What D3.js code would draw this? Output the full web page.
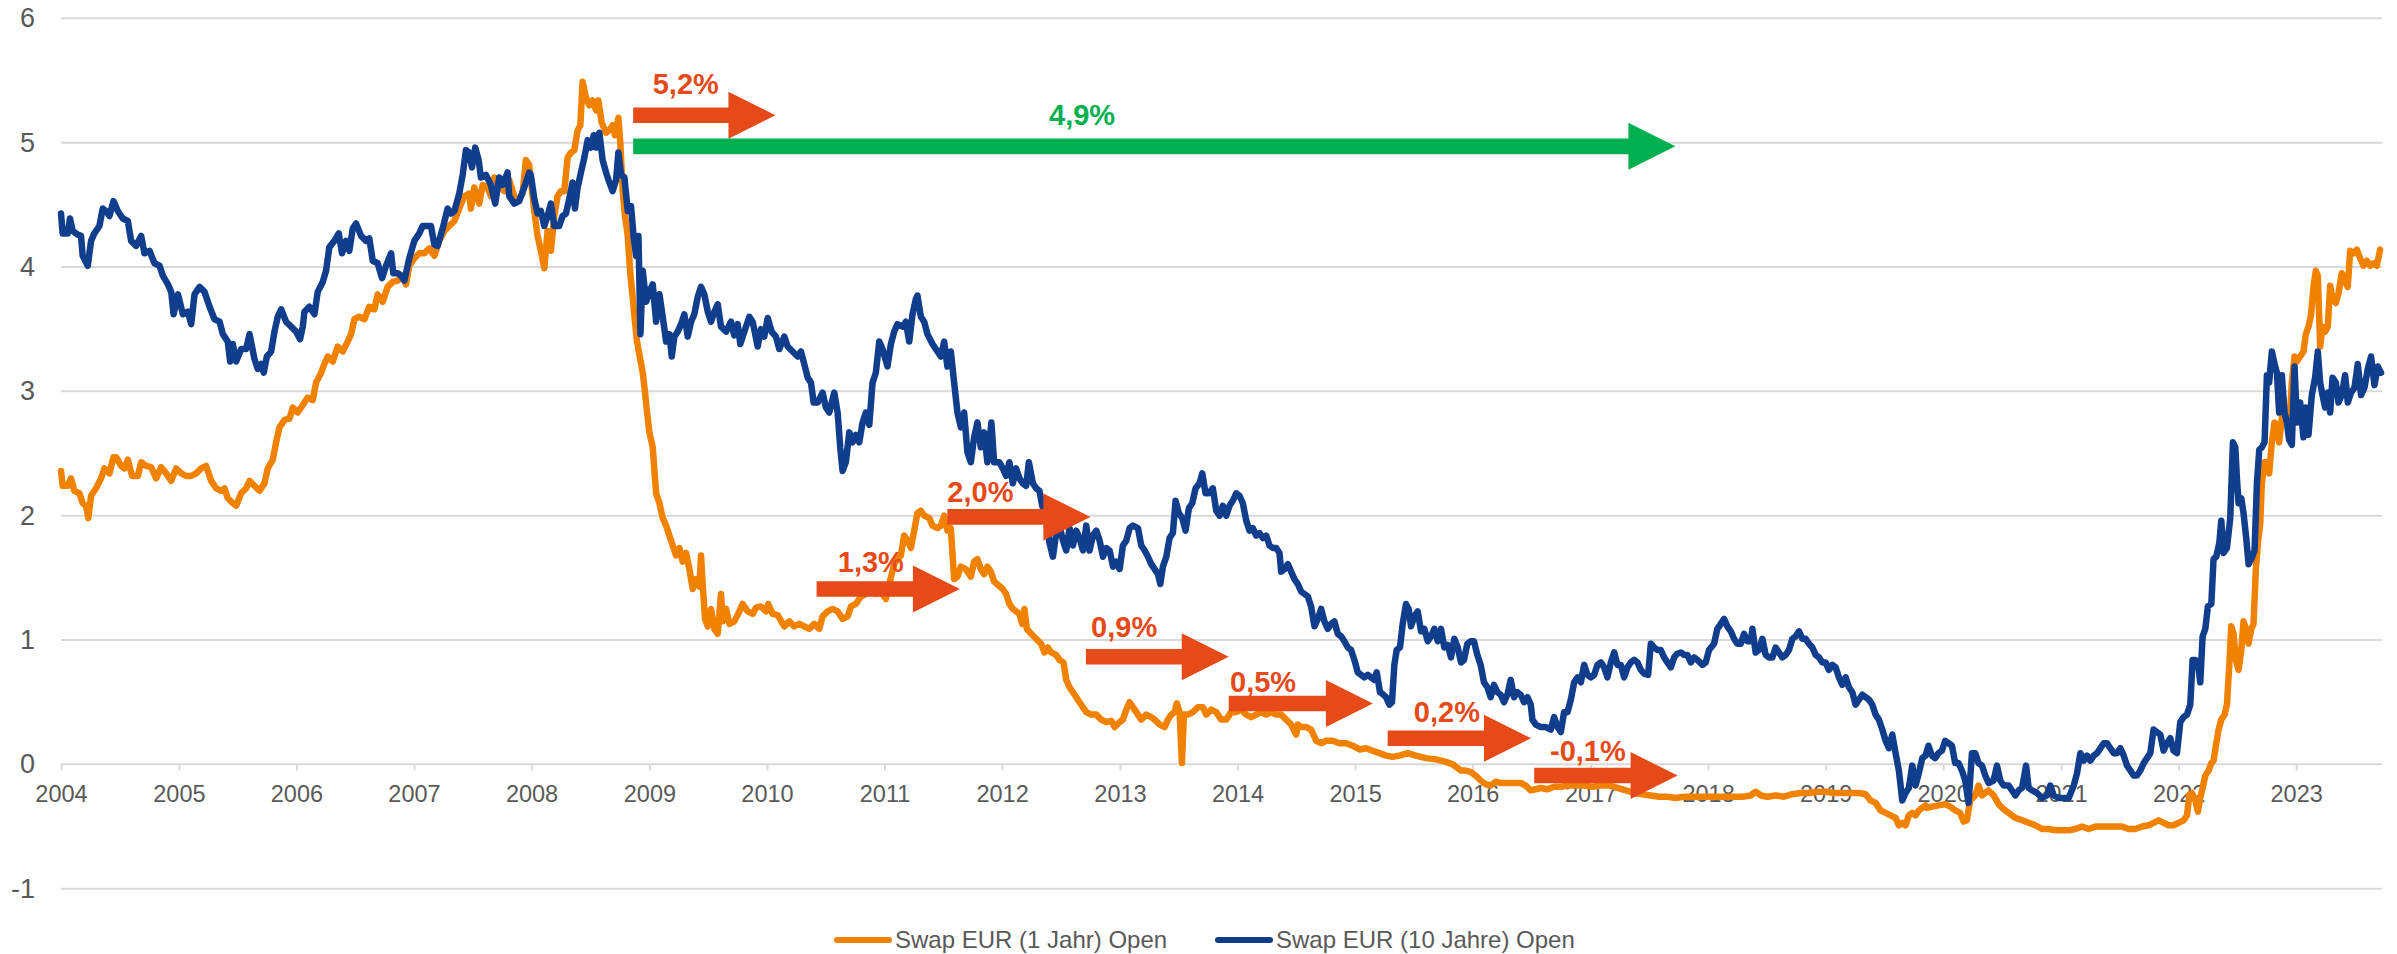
<!DOCTYPE html>
<html>
<head>
<meta charset="utf-8">
<script src="https://cdn.jsdelivr.net/npm/d3@7"></script>
<style>
  body { margin: 0; background: #fff; }
  svg { display: block; font-family: "Liberation Sans", Arial, sans-serif; }
</style>
</head>
<body>
<div id="chart"></div>
<script>
// ---- data (decimal year, rate in %) ----
const seriesNames = ["Swap EUR (1 Jahr) Open", "Swap EUR (10 Jahre) Open"];
const xTickYears = [2004,2005,2006,2007,2008,2009,2010,2011,2012,2013,2014,2015,2016,2017,2018,2019,2020,2021,2022,2023];
const yTicks = [-1,0,1,2,3,4,5,6];

const swap10y = [
[2004.000,4.43],[2004.014,4.27],[2004.057,4.27],[2004.076,4.39],[2004.099,4.29],[2004.142,4.26],[2004.170,4.25],[2004.184,4.09],[2004.227,4.01],[2004.255,4.21],[2004.283,4.27],[2004.326,4.33],[2004.354,4.47],[2004.382,4.45],[2004.411,4.41],[2004.445,4.53],[2004.482,4.45],[2004.524,4.39],[2004.567,4.37],[2004.595,4.21],[2004.637,4.17],[2004.680,4.25],[2004.708,4.11],[2004.751,4.13],[2004.793,4.03],[2004.836,4.01],[2004.864,3.93],[2004.907,3.86],[2004.935,3.80],[2004.955,3.62],[2004.992,3.78],[2005.034,3.62],[2005.076,3.64],[2005.105,3.54],[2005.133,3.78],[2005.176,3.84],[2005.218,3.80],[2005.261,3.68],[2005.303,3.58],[2005.346,3.56],[2005.374,3.46],[2005.416,3.40],[2005.436,3.24],[2005.459,3.38],[2005.487,3.24],[2005.530,3.34],[2005.572,3.34],[2005.601,3.46],[2005.643,3.26],[2005.671,3.18],[2005.700,3.22],[2005.722,3.15],[2005.748,3.28],[2005.785,3.32],[2005.813,3.48],[2005.841,3.60],[2005.870,3.66],[2005.912,3.56],[2005.955,3.52],[2005.997,3.48],[2006.031,3.42],[2006.054,3.52],[2006.068,3.64],[2006.110,3.68],[2006.153,3.62],[2006.181,3.80],[2006.224,3.88],[2006.252,3.97],[2006.280,4.16],[2006.323,4.21],[2006.360,4.27],[2006.388,4.11],[2006.422,4.21],[2006.450,4.13],[2006.479,4.31],[2006.507,4.35],[2006.550,4.25],[2006.592,4.21],[2006.620,4.23],[2006.649,4.05],[2006.691,4.03],[2006.728,3.91],[2006.762,4.01],[2006.805,4.11],[2006.824,3.95],[2006.861,3.95],[2006.890,3.93],[2006.918,3.89],[2006.960,4.07],[2007.003,4.21],[2007.045,4.27],[2007.074,4.33],[2007.116,4.33],[2007.144,4.33],[2007.173,4.18],[2007.201,4.17],[2007.244,4.31],[2007.286,4.47],[2007.314,4.43],[2007.343,4.45],[2007.385,4.59],[2007.414,4.74],[2007.442,4.94],[2007.470,4.92],[2007.493,4.80],[2007.521,4.96],[2007.550,4.86],[2007.569,4.72],[2007.612,4.74],[2007.654,4.66],[2007.691,4.51],[2007.725,4.72],[2007.754,4.66],[2007.796,4.76],[2007.810,4.57],[2007.853,4.51],[2007.895,4.53],[2007.938,4.64],[2007.980,4.76],
[2007.994,4.74],[2008.023,4.55],[2008.051,4.43],[2008.079,4.45],[2008.108,4.33],[2008.136,4.41],[2008.164,4.51],[2008.193,4.33],[2008.235,4.33],[2008.263,4.41],[2008.292,4.43],[2008.320,4.55],[2008.348,4.68],[2008.368,4.47],[2008.391,4.64],[2008.419,4.76],[2008.448,4.88],[2008.476,5.02],[2008.504,4.96],[2008.527,5.06],[2008.547,4.96],[2008.575,5.08],[2008.603,4.86],[2008.632,4.76],[2008.660,4.68],[2008.688,4.61],[2008.717,4.70],[2008.737,4.92],[2008.759,4.74],[2008.788,4.72],[2008.816,4.45],[2008.844,4.49],[2008.867,4.23],[2008.887,4.09],[2008.907,4.25],[2008.924,3.46],[2008.943,3.97],[2008.972,3.72],[2009.000,3.80],[2009.028,3.86],[2009.057,3.56],[2009.085,3.78],[2009.113,3.60],[2009.142,3.40],[2009.170,3.46],[2009.190,3.28],[2009.212,3.44],[2009.241,3.48],[2009.269,3.54],[2009.297,3.62],[2009.326,3.44],[2009.354,3.56],[2009.382,3.62],[2009.411,3.76],[2009.439,3.84],[2009.467,3.78],[2009.496,3.64],[2009.524,3.56],[2009.552,3.64],[2009.581,3.70],[2009.609,3.52],[2009.652,3.48],[2009.694,3.56],[2009.722,3.45],[2009.751,3.54],[2009.773,3.38],[2009.807,3.48],[2009.850,3.60],[2009.878,3.56],[2009.921,3.36],[2009.949,3.50],[2009.977,3.44],[2010.006,3.59],[2010.040,3.48],[2010.076,3.44],[2010.105,3.34],[2010.147,3.44],[2010.176,3.36],[2010.218,3.32],[2010.261,3.28],[2010.289,3.32],[2010.317,3.22],[2010.346,3.11],[2010.374,3.07],[2010.397,2.91],[2010.431,2.91],[2010.473,2.99],[2010.501,2.87],[2010.530,2.83],[2010.572,2.99],[2010.601,2.83],[2010.623,2.55],[2010.643,2.36],[2010.671,2.43],[2010.700,2.67],[2010.728,2.59],[2010.756,2.65],[2010.785,2.59],[2010.813,2.75],[2010.841,2.83],[2010.870,2.73],[2010.898,3.07],[2010.926,3.15],[2010.955,3.40],[2010.983,3.34],[2011.025,3.20],[2011.054,3.38],[2011.082,3.48],[2011.110,3.54],[2011.153,3.52],[2011.181,3.56],[2011.210,3.40],[2011.238,3.62],[2011.266,3.74],[2011.280,3.77],[2011.309,3.60],[2011.337,3.56],[2011.365,3.46],[2011.408,3.38],[2011.450,3.32],[2011.479,3.28],[2011.507,3.40],[2011.535,3.20],[2011.564,3.32],[2011.592,3.07],[2011.620,2.83],[2011.649,2.71],[2011.677,2.83],[2011.705,2.51],[2011.734,2.43],[2011.762,2.63],[2011.790,2.75],[2011.819,2.55],[2011.847,2.67],[2011.875,2.43],[2011.909,2.75],[2011.932,2.43],
[2011.977,2.43],[2012.006,2.38],[2012.034,2.32],[2012.062,2.43],[2012.091,2.26],[2012.119,2.38],[2012.147,2.30],[2012.176,2.26],[2012.204,2.24],[2012.227,2.43],[2012.261,2.26],[2012.289,2.22],[2012.317,2.20],[2012.340,2.08],[2012.368,2.00],[2012.402,1.78],[2012.431,1.67],[2012.459,1.86],[2012.487,1.92],[2012.516,1.80],[2012.544,1.72],[2012.572,1.90],[2012.601,1.76],[2012.629,1.88],[2012.657,1.82],[2012.686,1.72],[2012.714,1.92],[2012.742,1.72],[2012.771,1.84],[2012.799,1.88],[2012.827,1.80],[2012.856,1.67],[2012.884,1.74],[2012.912,1.72],[2012.941,1.59],[2012.969,1.63],[2012.997,1.57],[2013.025,1.76],[2013.054,1.80],[2013.082,1.90],[2013.110,1.92],[2013.153,1.90],[2013.181,1.76],[2013.210,1.72],[2013.238,1.67],[2013.266,1.61],[2013.295,1.57],[2013.323,1.53],[2013.343,1.45],[2013.365,1.59],[2013.394,1.67],[2013.422,1.82],[2013.450,1.86],[2013.473,2.12],[2013.501,2.02],[2013.530,1.98],[2013.558,1.88],[2013.586,2.06],[2013.615,2.10],[2013.643,2.22],[2013.677,2.26],[2013.700,2.34],[2013.728,2.18],[2013.756,2.18],[2013.790,2.22],[2013.819,2.04],[2013.847,2.00],[2013.875,2.08],[2013.904,2.00],[2013.932,2.08],[2013.960,2.12],[2013.989,2.18],[2014.017,2.16],[2014.045,2.10],[2014.074,1.96],[2014.102,1.88],[2014.130,1.90],[2014.159,1.84],[2014.187,1.86],[2014.215,1.82],[2014.244,1.84],[2014.272,1.76],[2014.300,1.74],[2014.329,1.74],[2014.357,1.70],[2014.371,1.55],[2014.399,1.57],[2014.428,1.61],[2014.456,1.55],[2014.484,1.49],[2014.513,1.45],[2014.541,1.39],[2014.569,1.37],[2014.598,1.35],[2014.626,1.27],[2014.654,1.11],[2014.683,1.17],[2014.711,1.25],[2014.739,1.15],[2014.768,1.09],[2014.796,1.13],[2014.824,1.15],[2014.853,1.05],[2014.881,1.03],[2014.909,0.99],[2014.938,0.94],[2014.966,0.92],[2014.994,0.84],[2015.023,0.74],[2015.051,0.72],[2015.079,0.70],[2015.108,0.72],[2015.136,0.70],[2015.164,0.68],[2015.184,0.74],[2015.212,0.58],[2015.241,0.56],[2015.263,0.54],[2015.292,0.48],[2015.314,0.50],[2015.334,0.80],[2015.354,0.92],[2015.382,0.94],[2015.405,1.13],[2015.433,1.29],[2015.456,1.25],[2015.476,1.11],[2015.504,1.19],[2015.533,1.23],[2015.561,1.07],[2015.589,1.09],[2015.618,0.99],[2015.646,1.03],[2015.674,1.09],[2015.703,0.99],[2015.731,1.09],[2015.759,0.94],[2015.788,0.96],[2015.816,0.86],[2015.844,1.01],[2015.873,0.94],[2015.901,0.82],
[2015.926,0.84],[2015.955,0.97],[2015.983,0.99],[2016.011,0.99],[2016.040,0.88],[2016.068,0.80],[2016.096,0.66],[2016.125,0.62],[2016.153,0.54],[2016.181,0.64],[2016.210,0.58],[2016.238,0.56],[2016.266,0.50],[2016.295,0.56],[2016.323,0.68],[2016.351,0.54],[2016.380,0.58],[2016.408,0.56],[2016.436,0.50],[2016.465,0.54],[2016.493,0.48],[2016.507,0.36],[2016.535,0.32],[2016.578,0.30],[2016.620,0.30],[2016.663,0.28],[2016.691,0.38],[2016.720,0.30],[2016.748,0.26],[2016.776,0.42],[2016.805,0.42],[2016.833,0.52],[2016.861,0.66],[2016.890,0.70],[2016.918,0.66],[2016.946,0.80],[2016.974,0.72],[2017.003,0.70],[2017.031,0.72],[2017.059,0.80],[2017.088,0.82],[2017.116,0.78],[2017.144,0.70],[2017.173,0.82],[2017.201,0.90],[2017.229,0.80],[2017.258,0.80],[2017.286,0.70],[2017.314,0.78],[2017.343,0.82],[2017.371,0.84],[2017.399,0.82],[2017.428,0.76],[2017.456,0.73],[2017.490,0.72],[2017.513,0.97],[2017.541,0.94],[2017.569,0.92],[2017.598,0.92],[2017.626,0.86],[2017.654,0.82],[2017.683,0.78],[2017.711,0.86],[2017.739,0.89],[2017.768,0.90],[2017.796,0.88],[2017.824,0.88],[2017.853,0.82],[2017.881,0.86],[2017.909,0.84],[2017.952,0.80],[2017.980,0.82],[2018.008,0.92],[2018.051,0.97],[2018.079,1.09],[2018.108,1.13],[2018.136,1.17],[2018.164,1.11],[2018.193,1.07],[2018.221,1.01],[2018.249,0.97],[2018.278,0.97],[2018.306,1.05],[2018.334,0.99],[2018.363,0.99],[2018.377,1.09],[2018.405,0.90],[2018.433,0.92],[2018.462,1.01],[2018.490,0.88],[2018.518,0.86],[2018.547,0.86],[2018.575,0.94],[2018.603,0.90],[2018.632,0.86],[2018.660,0.88],[2018.688,0.92],[2018.717,1.01],[2018.745,1.03],[2018.773,1.07],[2018.802,1.01],[2018.830,1.01],[2018.858,0.97],[2018.887,0.94],[2018.915,0.88],[2018.943,0.86],[2018.972,0.82],[2019.000,0.82],[2019.028,0.76],[2019.057,0.80],[2019.085,0.78],[2019.113,0.70],[2019.142,0.64],[2019.170,0.70],[2019.198,0.62],[2019.227,0.58],[2019.255,0.48],[2019.283,0.52],[2019.312,0.56],[2019.340,0.54],[2019.368,0.52],[2019.397,0.48],[2019.425,0.40],[2019.453,0.36],[2019.482,0.28],[2019.510,0.19],[2019.538,0.13],[2019.567,0.24],[2019.595,0.09],[2019.623,-0.05],[2019.652,-0.29],[2019.680,-0.23],[2019.708,-0.19],[2019.737,-0.01],[2019.765,-0.17],[2019.793,-0.07],[2019.822,0.05],[2019.850,0.07],
[2019.875,0.15],[2019.904,0.07],[2019.932,0.05],[2019.960,0.09],[2019.989,0.11],[2020.017,0.19],[2020.045,0.17],[2020.074,0.15],[2020.102,0.01],[2020.130,0.01],[2020.159,-0.05],[2020.187,-0.13],[2020.215,-0.31],[2020.244,0.09],[2020.272,0.09],[2020.300,0.01],[2020.329,-0.01],[2020.357,-0.09],[2020.385,-0.15],[2020.428,-0.13],[2020.456,-0.01],[2020.484,-0.13],[2020.513,-0.17],[2020.555,-0.17],[2020.584,-0.21],[2020.612,-0.25],[2020.640,-0.21],[2020.669,-0.19],[2020.703,-0.01],[2020.725,-0.19],[2020.754,-0.21],[2020.796,-0.23],[2020.838,-0.27],[2020.881,-0.25],[2020.909,-0.17],[2020.938,-0.25],[2020.980,-0.27],[2021.023,-0.27],[2021.065,-0.27],[2021.108,-0.17],[2021.136,-0.07],[2021.164,0.09],[2021.193,0.03],[2021.221,0.07],[2021.249,0.03],[2021.278,0.07],[2021.306,0.09],[2021.334,0.13],[2021.363,0.17],[2021.391,0.17],[2021.419,0.13],[2021.448,0.09],[2021.476,0.09],[2021.504,0.13],[2021.533,0.07],[2021.561,-0.01],[2021.589,-0.05],[2021.618,-0.09],[2021.646,-0.09],[2021.674,-0.05],[2021.703,0.01],[2021.731,0.05],[2021.759,0.09],[2021.787,0.28],[2021.816,0.26],[2021.844,0.24],[2021.872,0.11],[2021.901,0.17],[2021.929,0.21],[2021.957,0.11],[2021.986,0.09],[2022.014,0.34],[2022.042,0.38],[2022.071,0.40],[2022.099,0.48],[2022.119,0.84],[2022.142,0.84],[2022.164,0.82],[2022.184,0.66],[2022.204,1.03],[2022.227,1.09],[2022.249,1.27],[2022.278,1.29],[2022.297,1.65],[2022.320,1.67],[2022.346,1.78],[2022.363,1.96],[2022.382,1.70],[2022.411,1.74],[2022.439,1.98],[2022.462,2.59],[2022.482,2.55],[2022.496,2.30],[2022.510,2.10],[2022.533,2.14],[2022.552,2.02],[2022.575,1.82],[2022.595,1.61],[2022.618,1.65],[2022.646,1.72],[2022.666,2.26],[2022.686,2.53],[2022.708,2.55],[2022.731,2.59],[2022.751,3.13],[2022.770,3.07],[2022.793,3.32],[2022.816,3.22],[2022.836,3.15],[2022.855,2.83],[2022.878,3.13],[2022.901,2.83],[2022.921,2.75],[2022.940,2.61],[2022.963,2.57],[2022.986,3.20],[2023.006,2.75],[2023.034,2.91],[2023.062,2.63],[2023.082,2.87],[2023.105,2.65],[2023.133,2.97],[2023.161,3.11],[2023.184,3.32],[2023.204,3.07],[2023.224,2.97],[2023.246,2.87],[2023.269,2.99],[2023.289,2.83],[2023.309,3.11],[2023.337,3.07],[2023.360,2.91],[2023.388,2.97],[2023.416,3.13],[2023.439,2.91],[2023.467,2.99],[2023.496,3.03],[2023.524,3.22],[2023.552,2.97],[2023.581,3.03],[2023.609,3.18],[2023.637,3.28],[2023.666,3.05],[2023.694,3.20],[2023.722,3.15]
];

const swap1y = [
[2004.000,2.36],[2004.014,2.24],[2004.057,2.24],[2004.085,2.30],[2004.113,2.20],[2004.156,2.18],[2004.184,2.10],[2004.212,2.08],[2004.232,1.98],[2004.255,2.16],[2004.297,2.22],[2004.340,2.30],[2004.368,2.38],[2004.411,2.34],[2004.445,2.47],[2004.467,2.47],[2004.510,2.40],[2004.538,2.38],[2004.567,2.45],[2004.603,2.32],[2004.652,2.32],[2004.680,2.43],[2004.722,2.40],[2004.765,2.39],[2004.807,2.30],[2004.850,2.39],[2004.892,2.34],[2004.935,2.28],[2004.977,2.38],[2005.020,2.34],[2005.062,2.32],[2005.105,2.32],[2005.147,2.34],[2005.190,2.38],[2005.232,2.40],[2005.275,2.28],[2005.317,2.22],[2005.360,2.20],[2005.388,2.22],[2005.416,2.14],[2005.459,2.10],[2005.487,2.08],[2005.530,2.18],[2005.572,2.22],[2005.601,2.28],[2005.643,2.24],[2005.686,2.20],[2005.728,2.26],[2005.756,2.38],[2005.799,2.45],[2005.827,2.59],[2005.856,2.71],[2005.898,2.77],[2005.941,2.78],[2005.969,2.87],[2006.011,2.83],[2006.054,2.89],[2006.096,2.95],[2006.139,2.93],[2006.167,3.07],[2006.210,3.15],[2006.238,3.22],[2006.266,3.28],[2006.309,3.24],[2006.351,3.36],[2006.394,3.32],[2006.436,3.40],[2006.465,3.46],[2006.493,3.58],[2006.535,3.60],[2006.578,3.58],[2006.620,3.68],[2006.663,3.66],[2006.691,3.78],[2006.734,3.72],[2006.776,3.84],[2006.819,3.88],[2006.861,3.89],[2006.904,3.93],[2006.932,3.86],[2006.960,4.01],[2007.003,4.07],[2007.045,4.11],[2007.088,4.11],[2007.130,4.15],[2007.173,4.09],[2007.215,4.21],[2007.258,4.29],[2007.300,4.33],[2007.343,4.37],[2007.385,4.47],[2007.428,4.57],[2007.470,4.59],[2007.484,4.47],[2007.513,4.64],[2007.555,4.51],[2007.584,4.66],[2007.626,4.64],[2007.654,4.57],[2007.683,4.72],[2007.725,4.66],[2007.768,4.61],[2007.810,4.70],[2007.853,4.57],[2007.881,4.53],[2007.924,4.59],[2007.952,4.86],[2007.980,4.82],
[2007.994,4.70],[2008.023,4.45],[2008.051,4.25],[2008.079,4.13],[2008.108,3.99],[2008.136,4.29],[2008.164,4.13],[2008.193,4.41],[2008.221,4.57],[2008.249,4.61],[2008.278,4.61],[2008.306,4.88],[2008.334,4.92],[2008.363,4.94],[2008.391,5.10],[2008.414,5.14],[2008.433,5.49],[2008.462,5.36],[2008.490,5.30],[2008.518,5.34],[2008.547,5.26],[2008.567,5.34],[2008.595,5.16],[2008.632,5.08],[2008.660,5.10],[2008.688,5.14],[2008.708,5.06],[2008.737,5.20],[2008.754,4.98],[2008.773,4.61],[2008.793,4.41],[2008.816,4.25],[2008.839,3.93],[2008.858,3.76],[2008.873,3.60],[2008.895,3.40],[2008.918,3.28],[2008.943,3.15],[2008.963,2.99],[2008.980,2.83],[2009.000,2.67],[2009.028,2.55],[2009.057,2.18],[2009.085,2.10],[2009.113,1.98],[2009.142,1.92],[2009.170,1.84],[2009.198,1.76],[2009.227,1.68],[2009.255,1.74],[2009.283,1.63],[2009.312,1.70],[2009.340,1.57],[2009.368,1.41],[2009.397,1.49],[2009.425,1.43],[2009.439,1.68],[2009.453,1.45],[2009.473,1.17],[2009.496,1.11],[2009.524,1.25],[2009.552,1.09],[2009.581,1.05],[2009.609,1.37],[2009.623,1.15],[2009.652,1.25],[2009.680,1.13],[2009.722,1.15],[2009.765,1.23],[2009.793,1.29],[2009.836,1.23],[2009.878,1.21],[2009.907,1.26],[2009.949,1.27],[2009.992,1.23],[2010.011,1.29],[2010.048,1.21],[2010.091,1.20],[2010.147,1.11],[2010.190,1.15],[2010.232,1.11],[2010.275,1.13],[2010.317,1.11],[2010.360,1.09],[2010.402,1.13],[2010.445,1.09],[2010.473,1.19],[2010.516,1.23],[2010.558,1.25],[2010.601,1.23],[2010.643,1.17],[2010.686,1.19],[2010.714,1.27],[2010.756,1.29],[2010.799,1.35],[2010.841,1.37],[2010.884,1.43],[2010.926,1.37],[2010.969,1.39],[2011.011,1.33],[2011.040,1.45],[2011.082,1.61],[2011.110,1.65],[2011.139,1.68],[2011.167,1.84],[2011.195,1.80],[2011.224,1.74],[2011.252,1.88],[2011.280,2.02],[2011.309,2.04],[2011.337,2.00],[2011.380,1.98],[2011.408,1.92],[2011.450,1.90],[2011.479,1.92],[2011.507,2.00],[2011.535,1.88],[2011.564,1.90],[2011.592,1.49],[2011.620,1.51],[2011.649,1.59],[2011.691,1.57],[2011.734,1.51],[2011.762,1.63],[2011.790,1.65],[2011.819,1.57],[2011.847,1.53],[2011.875,1.59],[2011.904,1.55],[2011.932,1.47],
[2012.006,1.41],[2012.034,1.37],[2012.062,1.29],[2012.091,1.25],[2012.119,1.23],[2012.147,1.21],[2012.170,1.13],[2012.190,1.25],[2012.210,1.09],[2012.246,1.05],[2012.289,1.01],[2012.331,0.97],[2012.360,0.90],[2012.388,0.94],[2012.416,0.90],[2012.459,0.88],[2012.487,0.84],[2012.521,0.82],[2012.544,0.68],[2012.572,0.62],[2012.601,0.58],[2012.629,0.54],[2012.671,0.48],[2012.714,0.42],[2012.756,0.40],[2012.799,0.40],[2012.841,0.36],[2012.884,0.34],[2012.926,0.35],[2012.955,0.30],[2012.997,0.34],[2013.025,0.36],[2013.054,0.44],[2013.082,0.50],[2013.110,0.46],[2013.139,0.42],[2013.181,0.36],[2013.224,0.40],[2013.266,0.38],[2013.295,0.36],[2013.337,0.32],[2013.380,0.30],[2013.408,0.36],[2013.436,0.40],[2013.465,0.42],[2013.484,0.49],[2013.507,0.42],[2013.527,0.01],[2013.544,0.40],[2013.578,0.40],[2013.620,0.42],[2013.663,0.46],[2013.705,0.46],[2013.734,0.40],[2013.776,0.44],[2013.819,0.42],[2013.861,0.36],[2013.904,0.36],[2013.946,0.42],[2013.989,0.42],[2014.031,0.44],[2014.074,0.40],[2014.116,0.38],[2014.159,0.40],[2014.201,0.42],[2014.244,0.40],[2014.286,0.42],[2014.329,0.40],[2014.371,0.40],[2014.414,0.36],[2014.456,0.32],[2014.499,0.24],[2014.513,0.32],[2014.541,0.30],[2014.584,0.30],[2014.626,0.28],[2014.669,0.19],[2014.711,0.17],[2014.754,0.19],[2014.810,0.19],[2014.867,0.17],[2014.924,0.17],[2014.980,0.15],[2015.037,0.12],[2015.093,0.13],[2015.150,0.11],[2015.207,0.09],[2015.263,0.07],[2015.320,0.06],[2015.377,0.07],[2015.448,0.09],[2015.518,0.07],[2015.603,0.05],[2015.688,0.04],[2015.773,0.02],[2015.830,0.00],[2015.873,-0.03],[2015.901,-0.05],
[2015.940,-0.05],[2015.983,-0.06],[2016.025,-0.09],[2016.068,-0.13],[2016.110,-0.16],[2016.153,-0.17],[2016.195,-0.14],[2016.238,-0.15],[2016.295,-0.15],[2016.351,-0.15],[2016.408,-0.15],[2016.450,-0.17],[2016.493,-0.21],[2016.535,-0.20],[2016.578,-0.19],[2016.635,-0.20],[2016.691,-0.18],[2016.748,-0.18],[2016.805,-0.17],[2016.875,-0.17],[2016.946,-0.17],[2017.017,-0.18],[2017.088,-0.17],[2017.159,-0.17],[2017.229,-0.19],[2017.300,-0.21],[2017.371,-0.23],[2017.442,-0.24],[2017.513,-0.25],[2017.584,-0.26],[2017.654,-0.26],[2017.725,-0.27],[2017.796,-0.26],[2017.867,-0.26],[2017.938,-0.26],[2018.008,-0.26],[2018.079,-0.26],[2018.150,-0.26],[2018.221,-0.26],[2018.292,-0.26],[2018.363,-0.25],[2018.405,-0.22],[2018.448,-0.25],[2018.504,-0.26],[2018.575,-0.25],[2018.646,-0.26],[2018.717,-0.24],[2018.788,-0.23],[2018.858,-0.23],[2018.929,-0.22],[2019.000,-0.22],[2019.071,-0.23],[2019.142,-0.23],[2019.212,-0.23],[2019.283,-0.23],[2019.340,-0.24],[2019.382,-0.29],[2019.425,-0.31],[2019.467,-0.37],[2019.510,-0.39],[2019.552,-0.41],[2019.595,-0.43],[2019.623,-0.49],[2019.652,-0.47],[2019.680,-0.49],[2019.708,-0.41],[2019.737,-0.39],[2019.765,-0.41],[2019.793,-0.37],[2019.822,-0.35],[2019.850,-0.33],
[2019.861,-0.35],[2019.904,-0.34],[2019.960,-0.33],[2020.017,-0.32],[2020.059,-0.34],[2020.102,-0.37],[2020.144,-0.39],[2020.173,-0.46],[2020.201,-0.45],[2020.229,-0.29],[2020.272,-0.25],[2020.300,-0.17],[2020.329,-0.25],[2020.357,-0.23],[2020.385,-0.21],[2020.428,-0.25],[2020.470,-0.32],[2020.513,-0.36],[2020.555,-0.39],[2020.612,-0.43],[2020.669,-0.45],[2020.725,-0.47],[2020.782,-0.49],[2020.838,-0.52],[2020.895,-0.52],[2020.952,-0.53],[2021.008,-0.53],[2021.065,-0.53],[2021.122,-0.52],[2021.178,-0.50],[2021.235,-0.52],[2021.292,-0.50],[2021.348,-0.50],[2021.405,-0.50],[2021.462,-0.50],[2021.518,-0.50],[2021.575,-0.52],[2021.632,-0.52],[2021.688,-0.50],[2021.745,-0.49],[2021.787,-0.47],[2021.830,-0.45],[2021.872,-0.47],[2021.915,-0.49],[2021.957,-0.49],[2022.000,-0.47],[2022.042,-0.45],[2022.071,-0.41],[2022.091,-0.25],[2022.113,-0.23],[2022.142,-0.29],[2022.164,-0.38],[2022.184,-0.27],[2022.204,-0.19],[2022.227,-0.09],[2022.255,-0.05],[2022.278,0.01],[2022.297,0.03],[2022.317,0.15],[2022.340,0.28],[2022.363,0.36],[2022.391,0.40],[2022.411,0.48],[2022.431,0.80],[2022.448,1.11],[2022.467,1.05],[2022.487,0.84],[2022.510,0.76],[2022.533,0.92],[2022.552,1.15],[2022.572,1.09],[2022.595,0.97],[2022.618,1.09],[2022.637,1.13],[2022.657,1.57],[2022.674,1.78],[2022.694,1.94],[2022.708,2.26],[2022.731,2.43],[2022.751,2.43],[2022.770,2.34],[2022.793,2.59],[2022.816,2.75],[2022.836,2.73],[2022.855,2.59],[2022.878,2.79],[2022.901,2.83],[2022.921,2.83],[2022.940,2.69],[2022.963,3.07],[2022.986,3.28],[2023.006,3.24],[2023.034,3.28],[2023.062,3.32],[2023.082,3.46],[2023.105,3.52],[2023.127,3.62],[2023.147,3.84],[2023.167,3.97],[2023.184,3.93],[2023.204,3.36],[2023.224,3.52],[2023.246,3.48],[2023.269,3.52],[2023.289,3.85],[2023.309,3.75],[2023.337,3.71],[2023.360,3.79],[2023.388,3.95],[2023.411,3.89],[2023.439,3.84],[2023.459,4.13],[2023.487,4.11],[2023.516,4.14],[2023.544,4.07],[2023.572,4.01],[2023.601,4.05],[2023.629,4.01],[2023.657,4.03],[2023.686,4.01],[2023.714,4.14]
];

// arrow annotations
const arrowLabels = ["5,2%", "4,9%", "1,3%", "2,0%", "0,9%", "0,5%", "0,2%", "-0,1%"];
const arrowFrom   = [2008.862, 2008.862, 2010.422, 2011.534, 2012.711, 2013.925, 2015.277, 2016.522];
const arrowTo     = [2010.072, 2017.722, 2011.641, 2012.749, 2013.925, 2015.151, 2016.495, 2017.741];
const arrowLevel  = [5.22, 4.97, 1.41, 1.99, 0.865, 0.49, 0.21, -0.09];
const labelYear   = [2009.028, 2012.398, 2010.602, 2011.534, 2012.755, 2013.936, 2015.500, 2016.656];
const labelLevel  = [5.394, 5.139, 1.546, 2.109, 1.023, 0.581, 0.340, 0.027];
const arrowGreen  = [false, true, false, false, false, false, false, false];

// ---- chart ----
const width = 2397;
const height = 954;
const margin = {top: 18.3, right: 15, bottom: 65.3, left: 61};

const orange = "#F08200", navy = "#103D8C", red = "#E64A19", green = "#00B050";
const grey = "#595959", gridColor = "#D9D9D9";

// decimal year -> Date
function toDate(v) {
  const yr = Math.floor(v);
  const s = Date.UTC(yr, 0, 1), e = Date.UTC(yr + 1, 0, 1);
  return new Date(s + (v - yr) * (e - s));
}

const svg = d3.select("#chart")
  .append("svg")
  .attr("width", width)
  .attr("height", height)
  .attr("viewBox", `0 0 ${width} ${height}`);

svg.append("rect").attr("width", width).attr("height", height).attr("fill", "#fff");

const x = d3.scaleUtc()
  .domain([toDate(2004), toDate(2023.73)])
  .range([margin.left, width - margin.right]);

const y = d3.scaleLinear()
  .domain([-1, 6])
  .range([height - margin.bottom, margin.top]);

// gridlines
svg.append("g")
  .selectAll("line")
  .data(yTicks)
  .join("line")
  .attr("x1", margin.left)
  .attr("x2", width - margin.right)
  .attr("y1", d => y(d))
  .attr("y2", d => y(d))
  .attr("stroke", gridColor)
  .attr("stroke-width", 2);

// x axis on the zero line
svg.append("g")
  .attr("transform", `translate(0,${y(0)})`)
  .call(d3.axisBottom(x)
    .tickValues(xTickYears.map(toDate))
    .tickFormat(d3.utcFormat("%Y"))
    .tickSize(6)
    .tickPadding(14.5))
  .call(g => g.attr("font-family", null).attr("font-size", null))
  .call(g => g.select(".domain").remove())
  .call(g => g.selectAll(".tick line").attr("stroke", gridColor).attr("stroke-width", 2))
  .call(g => g.selectAll(".tick text").attr("fill", grey).style("font-size", "23.5px"));

// y axis
svg.append("g")
  .attr("transform", `translate(${margin.left},0)`)
  .call(d3.axisLeft(y)
    .tickValues(yTicks)
    .tickFormat(d => String(d))
    .tickSize(0)
    .tickPadding(26))
  .call(g => g.attr("font-family", null).attr("font-size", null))
  .call(g => g.select(".domain").remove())
  .call(g => g.selectAll(".tick text").attr("fill", grey).style("font-size", "27px"));

// series
const line = d3.line()
  .x(d => x(toDate(d[0])))
  .y(d => y(d[1]));

[[swap1y, orange], [swap10y, navy]].forEach(([data, color]) => {
  svg.append("path")
    .datum(data)
    .attr("d", line)
    .attr("fill", "none")
    .attr("stroke", color)
    .attr("stroke-width", 6.5)
    .attr("stroke-linejoin", "round")
    .attr("stroke-linecap", "round");
});

// block arrows
const shaftHalf = 7.8, headHalf = 23.5, headLen = 47;
arrowLabels.forEach((label, i) => {
  const x0 = x(toDate(arrowFrom[i]));
  const xt = x(toDate(arrowTo[i]));
  const xh = xt - headLen;
  const yc = y(arrowLevel[i]);
  const col = arrowGreen[i] ? green : red;
  const pts = [
    [x0, yc - shaftHalf], [xh, yc - shaftHalf], [xh, yc - headHalf], [xt, yc],
    [xh, yc + headHalf], [xh, yc + shaftHalf], [x0, yc + shaftHalf]
  ];
  svg.append("path")
    .attr("d", "M" + pts.map(p => p.join(",")).join("L") + "Z")
    .attr("fill", col);
  svg.append("text")
    .attr("x", x(toDate(labelYear[i])))
    .attr("y", y(labelLevel[i]))
    .attr("fill", col)
    .style("font-size", "29px")
    .style("font-weight", "bold")
    .text(label);
});

// legend
const legend = svg.append("g");
const legendItems = [
  {name: seriesNames[0], color: orange, x: 837},
  {name: seriesNames[1], color: navy, x: 1218}
];
legendItems.forEach(d => {
  legend.append("line")
    .attr("x1", d.x).attr("x2", d.x + 52)
    .attr("y1", 940).attr("y2", 940)
    .attr("stroke", d.color)
    .attr("stroke-width", 6)
    .attr("stroke-linecap", "round");
  legend.append("text")
    .attr("x", d.x + 58)
    .attr("y", 948)
    .attr("fill", grey)
    .style("font-size", "24px")
    .text(d.name);
});
</script>
</body>
</html>
